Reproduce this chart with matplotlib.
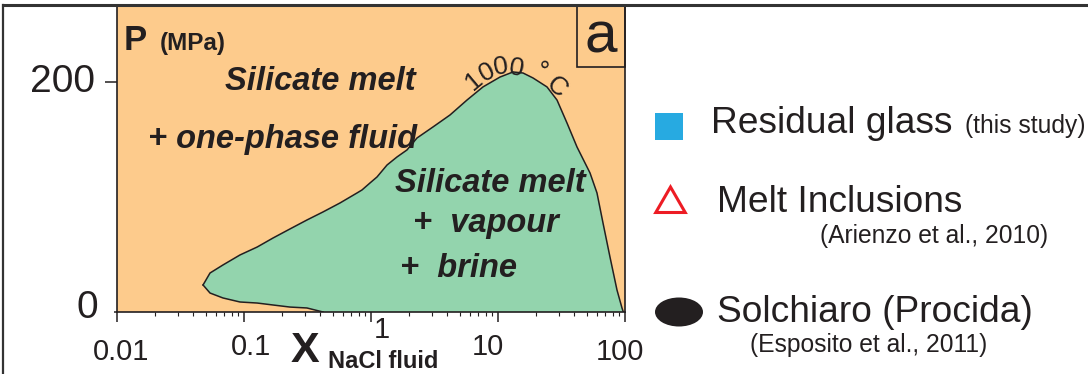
import matplotlib
matplotlib.use("Agg")
import numpy as np
import matplotlib.pyplot as plt
from matplotlib.patches import Polygon, Rectangle, Ellipse, RegularPolygon
from matplotlib.lines import Line2D

plt.rcParams['font.family'] = ['Liberation Sans', 'DejaVu Sans']

W, H = 1088, 374

# two-phase field boundary (X NaCl in wt%, P in MPa)
upper_x = [0.0476, 0.0540, 0.0683, 0.0930, 0.127, 0.169, 0.230, 0.313, 0.419,
           0.570, 0.776, 0.849, 0.982, 1.115, 1.337, 1.602, 1.920, 2.302, 3.077,
           4.188, 5.700, 7.617, 10.37, 13.13, 15.74, 18.86, 24.31, 29.15, 34.95,
           41.88, 53.03, 60.18, 67.11, 76.17, 86.49, 94.7, 97.0]
upper_p = [23.5, 33.9, 40.9, 49.6, 56.5, 64.3, 72.2, 80.0, 87.0,
           94.8, 103.5, 106.1, 112.2, 117.4, 127.8, 134.8, 140.9, 151.3, 160.9,
           171.3, 184.3, 195.7, 204.3, 208.7, 207.8, 203.5, 195.7, 184.3, 164.3,
           143.5, 120.9, 103.5, 77.4, 47.8, 19.1, 3.5, 0.0]
lower_x = [0.0476, 0.0540, 0.0683, 0.0930, 0.127, 0.169, 0.230, 0.313, 0.419, 1.0, 10.0, 97.0]
lower_p = [23.5, 16.5, 12.2, 8.7, 7.8, 6.1, 4.3, 3.5, 0.0, 0.0, 0.0, 0.0]

x_ticks = [0.01, 0.1, 1, 10, 100]
x_tick_labels = ["0.01", "0.1", "1", "10", "100"]
y_tick_labels = ["0", "200"]

legend_labels = ["Residual glass", "Melt Inclusions", "Solchiaro (Procida)"]
legend_refs = ["(this study)", "(Arienzo et al., 2010)", "(Esposito et al., 2011)"]

ORANGE = "#fdcb8c"
GREEN = "#93d4ad"
INK = "#231f20"


def fp(x, y):
    # figure pixel -> figure fraction
    return x / W, 1 - y / H


fig = plt.figure(figsize=(W / 100, H / 100), dpi=100)
ax = fig.add_axes([117 / W, 1 - 312 / H, 508 / W, 306.5 / H])
ax.set_xscale("log")
ax.set_xlim(0.01, 100)
ax.set_ylim(0, 266.5)
ax.set_facecolor(ORANGE)

# green field
bx = upper_x + lower_x[::-1]
bp = upper_p + lower_p[::-1]
ax.add_patch(Polygon(list(zip(bx, bp)), closed=True, facecolor=GREEN,
                     edgecolor="none", zorder=1))
ax.plot(upper_x, upper_p, color=INK, lw=1.1, zorder=2, solid_joinstyle="round")
ax.plot(lower_x[:9], lower_p[:9], color=INK, lw=1.1, zorder=2, solid_joinstyle="round")

for s in ["left", "bottom", "right"]:
    ax.spines[s].set_color(INK)
    ax.spines[s].set_linewidth(1.2)
    ax.spines[s].set_zorder(3)
ax.spines["top"].set_visible(False)

ax.set_xticks(x_ticks)
ax.set_xticklabels([])
ax.tick_params(axis="x", which="major", direction="out", length=7, width=1.1, color=INK)
ax.tick_params(axis="x", which="minor", direction="out", length=3, width=0.8, color=INK)
ax.set_yticks([200])
ax.set_yticks([0], minor=True)
ax.set_yticklabels([])
ax.tick_params(axis="y", which="major", direction="out", length=9, width=1.1, color=INK)
ax.tick_params(axis="y", which="minor", direction="out", length=2, width=1.1, color=INK)

# tick labels placed like the original
xl_pos = [(121, 360), (251, 355), (382, 338), (488, 355), (620, 360)]
for lab, (px, py) in zip(x_tick_labels, xl_pos):
    fig.text(*fp(px, py), lab, fontsize=21, ha="center", va="baseline", color=INK)
yl_pos = [(98, 318), (95, 92)]
for lab, (px, py) in zip(y_tick_labels, yl_pos):
    fig.text(*fp(px, py), lab, fontsize=28, ha="right", va="baseline", color=INK)

# axis titles
fig.text(*fp(124, 50), "P", fontsize=25, fontweight="bold", va="baseline", color=INK)
fig.text(*fp(160, 50), "(MPa)", fontsize=17.5, fontweight="bold", va="baseline", color=INK)
fig.text(*fp(291, 362), "X", fontsize=31, fontweight="bold", va="baseline", color=INK)
fig.text(*fp(328, 368), "NaCl fluid", fontsize=17, fontweight="bold", va="baseline", color=INK)

# field labels
field = [("Silicate melt", 225, 90), ("+ one-phase fluid", 148, 148),
         ("Silicate melt", 395, 192), ("+  vapour", 413, 232), ("+  brine", 400, 277)]
for txt, px, py in field:
    fig.text(*fp(px, py), txt, fontsize=23.5, fontweight="bold", fontstyle="italic",
             va="baseline", color=INK)

# isotherm label along the curve
iso = [("1", 474, 81, 40), ("0", 487, 72, 28), ("0", 501, 67, 10), ("0", 516, 68, -10),
       ("°", 540, 72, -25), ("C", 556, 87, -42)]
for ch, px, py, rot in iso:
    fig.text(*fp(px, py), ch, fontsize=19, rotation=rot, ha="center", va="center",
             color=INK, rotation_mode="anchor")

# panel letter box
ax.add_patch(Rectangle((0.9055, 0.8), 0.0945, 0.2, transform=ax.transAxes,
                       facecolor="none", edgecolor=INK, lw=1.2, clip_on=False))
ax.text(0.953, 0.895, "a", transform=ax.transAxes, fontsize=42, ha="center",
        va="center", color=INK)

# overlay in pixel coordinates for legend symbols and the outer frame
ov = fig.add_axes([0, 0, 1, 1], zorder=5)
ov.set_xlim(0, W)
ov.set_ylim(H, 0)
ov.axis("off")
ov.add_patch(Rectangle((655, 113), 28, 27, facecolor="#27aae1", edgecolor="none"))
ov.add_patch(RegularPolygon((670.5, 204), 3, radius=17, orientation=np.pi,
                            facecolor="white", edgecolor="#ed1c24", lw=2.2))
ov.add_patch(Ellipse((679, 312), 48, 29, facecolor=INK, edgecolor="none"))
ov.add_line(Line2D([3, W], [4.5, 4.5], color="#333333", lw=2.2))
ov.add_line(Line2D([3, 3], [4.5, H], color="#333333", lw=1.6))

leg_main = [(711, 133), (717, 212), (717, 322)]
leg_ref = [(965, 133), (820, 243), (750, 352)]
for lab, (px, py) in zip(legend_labels, leg_main):
    fig.text(*fp(px, py), lab, fontsize=26.7, va="baseline", color=INK)
for lab, (px, py) in zip(legend_refs, leg_ref):
    fig.text(*fp(px, py), lab, fontsize=17.7, va="baseline", color=INK)

fig.savefig("out.png", dpi=100)
